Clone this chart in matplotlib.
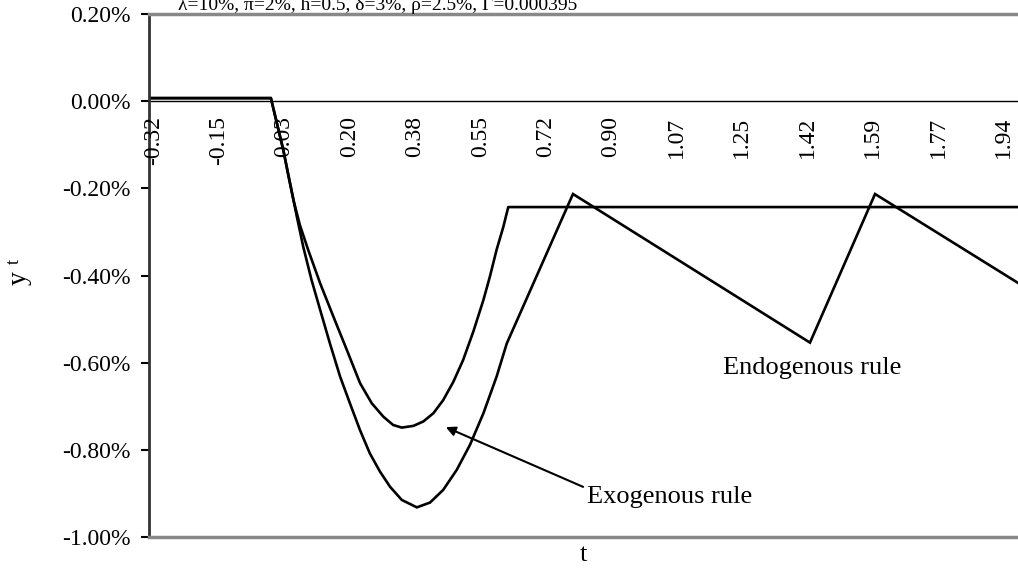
import numpy as np
import matplotlib
matplotlib.use("Agg")
import matplotlib.pyplot as plt

# ---- data (t, y in %) ----
t_exo = [-0.32, 0.004, 0.037, 0.050, 0.064, 0.081, 0.103, 0.135, 0.170, 0.206,
         0.241, 0.272, 0.303, 0.329, 0.352, 0.383, 0.409, 0.436, 0.462, 0.489,
         0.515, 0.542, 0.569, 0.586, 0.604, 0.622, 0.635, 1.99]
y_exo = [0.007, 0.007, -0.112, -0.169, -0.227, -0.284, -0.341, -0.418, -0.494, -0.571,
         -0.647, -0.693, -0.724, -0.743, -0.749, -0.745, -0.735, -0.716, -0.686, -0.644,
         -0.594, -0.529, -0.456, -0.403, -0.341, -0.288, -0.243, -0.243]

t_endo = [-0.32, 0.004, 0.037, 0.055, 0.073, 0.090, 0.112, 0.135, 0.161, 0.188,
          0.214, 0.241, 0.267, 0.294, 0.321, 0.352, 0.392, 0.427, 0.462, 0.498,
          0.533, 0.569, 0.604, 0.631, 0.807, 1.437, 1.610, 1.990]
y_endo = [0.007, 0.007, -0.112, -0.188, -0.265, -0.334, -0.410, -0.479, -0.556, -0.632,
          -0.693, -0.755, -0.808, -0.850, -0.885, -0.915, -0.932, -0.921, -0.892, -0.846,
          -0.789, -0.716, -0.632, -0.556, -0.213, -0.554, -0.213, -0.417]

x_tick_labels = ["-0.32", "-0.15", "0.03", "0.20", "0.38", "0.55", "0.72",
                 "0.90", "1.07", "1.25", "1.42", "1.59", "1.77", "1.94"]
y_ticks = [0.20, 0.00, -0.20, -0.40, -0.60, -0.80, -1.00]

title = "\u03bb=10%, \u03c0=2%, h=0.5, \u03b4=3%, \u03c1=2.5%, \u0393=0.000395"

plt.rcParams['font.family'] = ['Liberation Serif', 'DejaVu Serif']

W, H = 1018, 573
fig = plt.figure(figsize=(W / 100, H / 100), dpi=100)
ax = fig.add_axes([149 / W, 36 / H, (W - 149) / W, (537 - 14) / H])

ax.plot(t_exo, y_exo, color='black', lw=1.9, solid_joinstyle='round')
ax.plot(t_endo, y_endo, color='black', lw=1.9, solid_joinstyle='miter')
ax.axhline(0, color='black', lw=1.0, zorder=1)

ax.set_xlim(-0.32, 1.99)
ax.set_ylim(-1.0, 0.2)

ax.set_yticks(y_ticks)
ax.set_yticklabels([f"{v:.2f}%" for v in y_ticks], fontsize=17)
ax.tick_params(axis='y', direction='out', length=6, width=1.5, pad=7, colors='black')
ax.set_xticks([])

for s in ['top', 'bottom']:
    ax.spines[s].set_color('#888888')
    ax.spines[s].set_linewidth(2.5)
ax.spines['right'].set_visible(False)
ax.spines['left'].set_color('#333333')
ax.spines['left'].set_linewidth(2.0)

# x tick labels along the zero line
x_ticks = np.linspace(-0.32, 1.94, len(x_tick_labels))
for xv, lab in zip(x_ticks, x_tick_labels):
    ax.annotate(lab, xy=(xv, 0), xytext=(3, -11), textcoords='offset points',
                rotation=90, ha='center', va='top', fontsize=17, annotation_clip=False)

# axis titles
fig.text(583 / W, 1 - 555 / H, "t", ha='center', va='center', fontsize=19)
fig.text(19 / W, 1 - 278 / H, "y", ha='center', va='center', fontsize=20, rotation=90)
fig.text(14 / W, 1 - 261 / H, "t", ha='center', va='center', fontsize=13, rotation=90)

# title (cut off at top)
fig.text(178 / W, 1 - 10 / H, title, ha='left', va='baseline', fontsize=14)

# annotations
ax.text(1.442, -0.613, "Endogenous rule", fontsize=19, ha='center', va='center')
ax.annotate("", xy=(0.469, -0.748), xytext=(0.834, -0.885),
            arrowprops=dict(arrowstyle='-|>', color='black', lw=1.5,
                            mutation_scale=14, shrinkA=0, shrinkB=0))
ax.text(1.065, -0.908, "Exogenous rule", fontsize=19, ha='center', va='center')

fig.savefig("out.png", dpi=100)
